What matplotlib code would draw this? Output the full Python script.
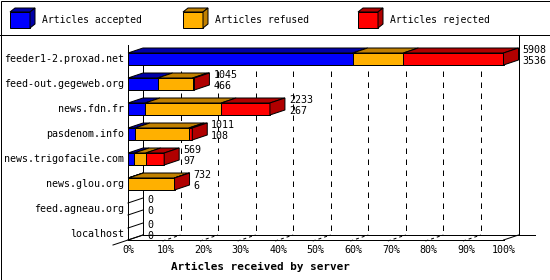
import matplotlib
matplotlib.use("Agg")
import matplotlib.pyplot as plt
from matplotlib.patches import Polygon, Rectangle
import numpy as np

# data
servers = ["feeder1-2.proxad.net", "feed-out.gegeweb.org", "news.fdn.fr",
           "pasdenom.info", "news.trigofacile.com", "news.glou.org",
           "feed.agneau.org", "localhost"]
accepted = [3536, 466, 267, 108, 97, 6, 0, 0]
refused = [796, 550, 1198, 848, 182, 724, 0, 0]
rejected = [1576, 29, 768, 55, 290, 2, 0, 0]
series_names = ["Articles accepted", "Articles refused", "Articles rejected"]
tick_pct = [0, 10, 20, 30, 40, 50, 60, 70, 80, 90, 100]

front_cols = ["#0000ff", "#ffb000", "#ff0000"]
dark_cols = ["#0000a8", "#c08000", "#b00000"]

W, H = 550, 280
PXX = 3.755          # pixels per percent
ROW = 25.0           # pixels per category row
X0, Y0 = 128, 59     # pixel position of 0% / first row
DX = 15 / PXX        # depth, in percent
DY = -5 / ROW        # depth, in rows (upwards)
BH = 6 / ROW         # half bar height
LW = 0.72            # one pixel

plt.rcParams['font.family'] = ['DejaVu Sans Mono']

fig = plt.figure(figsize=(W / 100, H / 100), dpi=100)
ax = fig.add_axes([0, 0, 1, 1])
ax.set_xlim(-X0 / PXX, (W - X0) / PXX)
ax.set_ylim((H - Y0) / ROW, -Y0 / ROW)
ax.axis('off')

def py(p):
    # pixel row -> data row
    return (p - Y0) / ROW

def px(p):
    return (p - X0) / PXX

n = len(servers)
acc = np.array(accepted, float)
ref = np.array(refused, float)
rej = np.array(rejected, float)
totals = acc + ref + rej
scale = 100.0 / totals.max()

floor_f = n - 1 + BH
floor_b = floor_f + DY
top_b = py(49)

# back wall grid
for t in tick_pct[1:-1]:
    ax.plot([t + DX, t + DX], [top_b, floor_b], color='black', lw=LW,
            dashes=(5.5, 5.5), zorder=1)
    # dashed depth tick on the floor
    ax.plot([t - 0.2 * DX, t + DX], [floor_f + 0.04, floor_b], color='black',
            lw=LW, dashes=(3, 3), zorder=1)

# frame lines of the 3d box
ax.plot([0, 0], [py(45), floor_f], color='black', lw=LW, zorder=2)
ax.plot([DX, DX], [top_b, floor_b], color='black', lw=LW, zorder=1)
ax.plot([0, 100], [floor_f, floor_f], color='black', lw=LW, zorder=2)
ax.plot([DX, px(535)], [floor_b, floor_b], color='black', lw=LW, zorder=1)
ax.plot([100 + DX, 100 + DX], [py(35), floor_b], color='black', lw=LW, zorder=1)
ax.plot([-DX, DX], [floor_f - DY, floor_b], color='black', lw=LW, zorder=2)
ax.plot([100, 100 + DX], [floor_f, floor_b], color='black', lw=LW, zorder=2)

# bars
for i in range(n):
    segs = [acc[i], ref[i], rej[i]]
    left = 0.0
    top = i - BH
    bot = i + BH
    for k, v in enumerate(segs):
        w = v * scale
        if w <= 0:
            continue
        ax.add_patch(Rectangle((left, top), w, 2 * BH, facecolor=front_cols[k],
                               edgecolor='black', lw=LW, zorder=3))
        ax.add_patch(Polygon([(left, top), (left + w, top), (left + w + DX, top + DY),
                              (left + DX, top + DY)], closed=True,
                             facecolor=dark_cols[k], edgecolor='black', lw=LW, zorder=3))
        left += w
    if left > 0:
        ax.add_patch(Polygon([(left, top), (left, bot), (left + DX, bot + DY),
                              (left + DX, top + DY)], closed=True,
                             facecolor=dark_cols[2], edgecolor='black', lw=LW, zorder=3))
    else:
        ax.plot([0, DX], [top, top + DY], color='black', lw=LW, zorder=3)
        ax.plot([0, DX], [bot, bot + DY], color='black', lw=LW, zorder=3)
    lx = left + DX + 4 / PXX
    ax.text(lx, top + DY + 0.07, "%d" % totals[i], fontsize=7.2, ha='left',
            va='center', zorder=4)
    ax.text(lx, top + DY + 0.51, "%d" % acc[i], fontsize=7.2, ha='left',
            va='center', zorder=4)
    ax.text(px(124), i, servers[i], fontsize=7.2, ha='right', va='center', zorder=4)

for t in tick_pct:
    ax.text(t, py(250), "%d%%" % t, fontsize=7.2, ha='center', va='center')

ax.text(px(260.5), py(267), "Articles received by server", fontsize=7.9,
        fontweight='bold', ha='center', va='center')

# legend and outer frame in pixel coordinates
lax = fig.add_axes([0, 0, 1, 1], zorder=5)
lax.set_xlim(0, W)
lax.set_ylim(H, 0)
lax.axis('off')
lax.patch.set_alpha(0)
lax.add_patch(Rectangle((0.5, 0.5), W - 1, H - 1, fill=False, edgecolor='black', lw=LW))
lax.plot([0, W], [35, 35], color='black', lw=LW)

leg_x = [10, 183, 358]
for k, name in enumerate(series_names):
    x = leg_x[k]
    lax.add_patch(Rectangle((x, 12), 20, 16, facecolor=front_cols[k],
                            edgecolor='black', lw=LW))
    lax.add_patch(Polygon([(x, 12), (x + 20, 12), (x + 25, 8), (x + 5, 8)], closed=True,
                          facecolor=dark_cols[k], edgecolor='black', lw=LW))
    lax.add_patch(Polygon([(x + 20, 12), (x + 20, 28), (x + 25, 24), (x + 25, 8)],
                          closed=True, facecolor=dark_cols[k], edgecolor='black', lw=LW))
    lax.text(x + 32, 20, name, fontsize=7.0, ha='left', va='center')

fig.savefig("out.png", dpi=100)
